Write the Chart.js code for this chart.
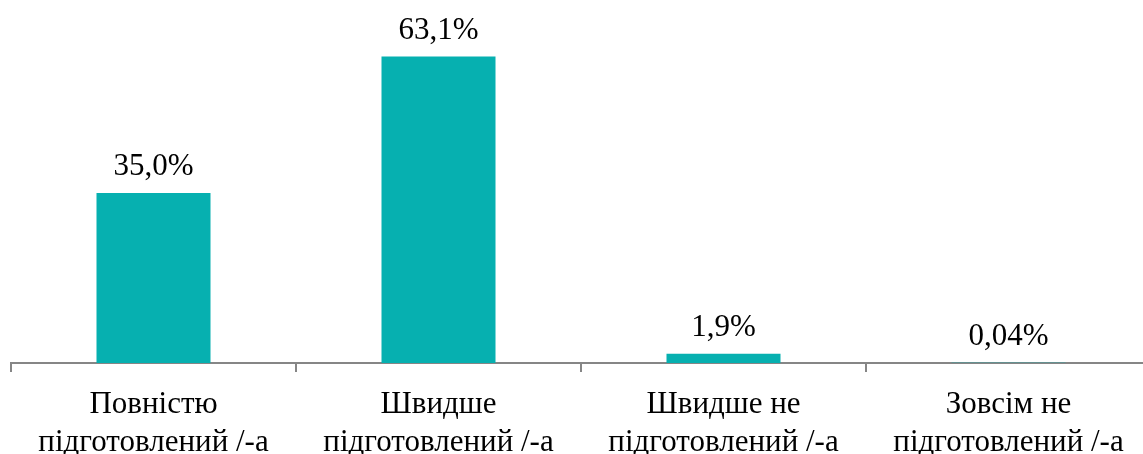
<!DOCTYPE html>
<html>
<head>
<meta charset="utf-8">
<script src="https://cdn.jsdelivr.net/npm/chart.js@4/dist/chart.umd.min.js"></script>
<style>
  html, body { margin: 0; padding: 0; background: #fff; overflow: hidden; }
  #wrap { width: 1160px; height: 454px; }
</style>
</head>
<body>
<div id="wrap"><canvas id="chart"></canvas></div>
<script>
const categories = [
    ["Повністю", "підготовлений /-а"],
    ["Швидше", "підготовлений /-а"],
    ["Швидше не", "підготовлений /-а"],
    ["Зовсім не", "підготовлений /-а"]
];
const values = [35.0, 63.1, 1.9, 0.04];
const valueLabels = ["35,0%", "63,1%", "1,9%", "0,04%"];

const fontFamily = "'Liberation Serif', 'Times New Roman', serif";

const valueLabelPlugin = {
    id: "valueLabels",
    afterDatasetsDraw(chart) {
        const ctx = chart.ctx;
        const meta = chart.getDatasetMeta(0);
        ctx.save();
        ctx.font = "31px " + fontFamily;
        ctx.fillStyle = "#000";
        ctx.textAlign = "center";
        ctx.textBaseline = "alphabetic";
        meta.data.forEach((bar, i) => {
            ctx.fillText(valueLabels[i], bar.x, bar.y - 18);
        });
        ctx.restore();
    }
};

new Chart(document.getElementById("chart").getContext("2d"), {
    type: "bar",
    data: {
        labels: categories,
        datasets: [{
            data: values,
            backgroundColor: "#06b0b0",
            borderWidth: 0,
            barPercentage: 0.4,
            categoryPercentage: 1.0
        }]
    },
    plugins: [valueLabelPlugin],
    options: {
        responsive: true,
        maintainAspectRatio: false,
        animation: false,
        layout: { padding: { top: 23, left: 11, right: 9, bottom: 0 } },
        plugins: {
            legend: { display: false },
            tooltip: { enabled: false }
        },
        scales: {
            x: {
                grid: {
                    display: true,
                    drawOnChartArea: false,
                    drawTicks: true,
                    tickLength: 9,
                    color: "#868686",
                    lineWidth: 2,
                    offset: true
                },
                border: { display: true, color: "#868686", width: 2 },
                ticks: {
                    color: "#000",
                    padding: 14,
                    maxRotation: 0,
                    autoSkip: false,
                    font: { family: fontFamily, size: 31, lineHeight: 1.23 }
                },
                afterFit(scale) { scale.height = 91; }
            },
            y: {
                display: false,
                min: 0,
                max: 70
            }
        }
    }
});
</script>
</body>
</html>
